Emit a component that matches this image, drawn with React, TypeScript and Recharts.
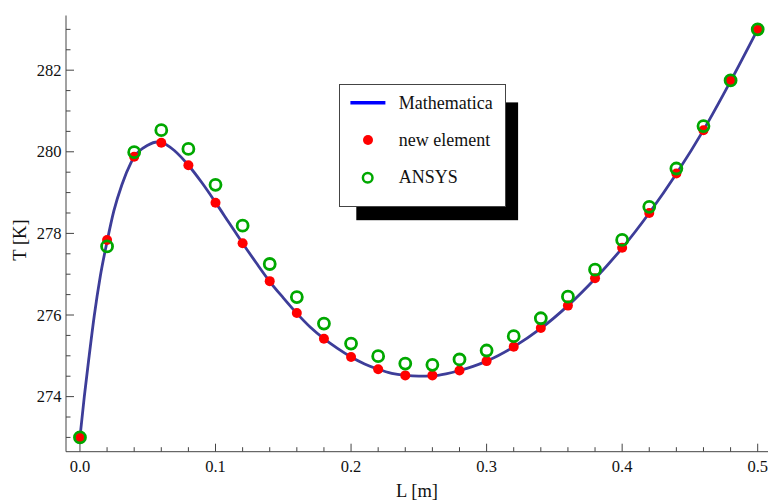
import React from 'react';
import { ComposedChart, Line, Scatter, XAxis, YAxis, Legend } from 'recharts';

// ---- data ----
const lengthL = [0, 0.02, 0.04, 0.06, 0.08, 0.1, 0.12, 0.14, 0.16, 0.18, 0.2, 0.22, 0.24, 0.26, 0.28, 0.3, 0.32, 0.34, 0.36, 0.38, 0.4, 0.42, 0.44, 0.46, 0.48, 0.5];
const newElementT = [273.0, 277.84, 279.88, 280.22, 279.67, 278.75, 277.76, 276.83, 276.05, 275.42, 274.97, 274.67, 274.52, 274.52, 274.64, 274.87, 275.22, 275.68, 276.23, 276.9, 277.65, 278.5, 279.47, 280.53, 281.75, 282.99];
const ansysT = [273.0, 277.68, 279.99, 280.53, 280.07, 279.19, 278.19, 277.25, 276.44, 275.79, 275.3, 274.99, 274.81, 274.78, 274.91, 275.13, 275.48, 275.92, 276.45, 277.11, 277.84, 278.65, 279.59, 280.63, 281.75, 283.0];

const curveL = [0, 0.0032, 0.0068, 0.0105, 0.015, 0.02, 0.025, 0.031, 0.0375, 0.04, 0.05, 0.057, 0.06, 0.07, 0.08, 0.09, 0.1, 0.11, 0.12, 0.13, 0.14, 0.15, 0.16, 0.17, 0.18, 0.19, 0.2, 0.21, 0.22, 0.23, 0.24, 0.25, 0.26, 0.27, 0.28, 0.29, 0.3, 0.32, 0.34, 0.36, 0.38, 0.4, 0.42, 0.44, 0.46, 0.48, 0.5];
const curveT = [273.0, 274.0, 275.0, 275.97, 276.95, 277.8, 278.55, 279.2, 279.72, 279.87, 280.16, 280.24, 280.23, 280.02, 279.67, 279.24, 278.76, 278.26, 277.76, 277.28, 276.82, 276.42, 276.04, 275.7, 275.42, 275.18, 274.97, 274.8, 274.67, 274.57, 274.52, 274.5, 274.51, 274.56, 274.64, 274.74, 274.87, 275.22, 275.67, 276.23, 276.89, 277.64, 278.5, 279.46, 280.53, 281.73, 283.0];

const xTicks = [0, 0.02, 0.04, 0.06, 0.08, 0.1, 0.12, 0.14, 0.16, 0.18, 0.2, 0.22, 0.24, 0.26, 0.28, 0.3, 0.32, 0.34, 0.36, 0.38, 0.4, 0.42, 0.44, 0.46, 0.48, 0.5];
const xMajorTicks = [0, 0.1, 0.2, 0.3, 0.4, 0.5];
const yTicks = [273, 273.5, 274, 274.5, 275, 275.5, 276, 276.5, 277, 277.5, 278, 278.5, 279, 279.5, 280, 280.5, 281, 281.5, 282, 282.5, 283];
const yMajorTicks = [274, 276, 278, 280, 282];

const xDomain = [-0.0103, 0.5076];
const yDomain = [272.65, 283.34];

const curveData = curveL.map((L, i) => ({ L, T: curveT[i] }));
const newElementData = lengthL.map((L, i) => ({ L, T: newElementT[i] }));
const ansysData = lengthL.map((L, i) => ({ L, T: ansysT[i] }));

// ---- styles ----
const FONT = "'Liberation Serif', 'Times New Roman', serif";
const FRAME = '#444444';
const TEXT = '#111111';
const LINE_COLOR = '#3d3d99';
const RED = '#ff0000';
const GREEN = '#00a800';
const MAJOR_LEN = 8;
const MINOR_LEN = 4.5;

const isMajor = (v: number, list: number[]) => list.some((m) => Math.abs(m - v) < 1e-6);

const BottomTick = (props: any) => {
  const { x, y, payload } = props;
  const major = isMajor(payload.value, xMajorTicks);
  return (
    <g>
      <line x1={x} y1={y} x2={x} y2={y - (major ? MAJOR_LEN : MINOR_LEN)} stroke={FRAME} strokeWidth={1} />
      {major && (
        <text x={x} y={y + 19.8} textAnchor="middle" fontSize={16.5} fontFamily={FONT} fill={TEXT}>
          {payload.value.toFixed(1)}
        </text>
      )}
    </g>
  );
};

const TopTick = (props: any) => {
  const { x, y, payload } = props;
  const major = isMajor(payload.value, xMajorTicks);
  return <line x1={x} y1={y} x2={x} y2={y + (major ? MAJOR_LEN : MINOR_LEN)} stroke={FRAME} strokeWidth={1} />;
};

const LeftTick = (props: any) => {
  const { x, y, payload } = props;
  const major = isMajor(payload.value, yMajorTicks);
  return (
    <g>
      <line x1={x} y1={y} x2={x + (major ? MAJOR_LEN : MINOR_LEN)} y2={y} stroke={FRAME} strokeWidth={1} />
      {major && (
        <text x={x - 4.5} y={y + 5.6} textAnchor="end" fontSize={16.5} fontFamily={FONT} fill={TEXT}>
          {payload.value}
        </text>
      )}
    </g>
  );
};

const RightTick = (props: any) => {
  const { x, y, payload } = props;
  const major = isMajor(payload.value, yMajorTicks);
  return <line x1={x} y1={y} x2={x - (major ? MAJOR_LEN : MINOR_LEN)} y2={y} stroke={FRAME} strokeWidth={1} />;
};

const RedDot = (props: any) => {
  const { cx, cy } = props;
  return <circle cx={cx} cy={cy} r={5} fill={RED} />;
};

const GreenRing = (props: any) => {
  const { cx, cy } = props;
  return <circle cx={cx} cy={cy} r={5.5} fill="none" stroke={GREEN} strokeWidth={2.8} />;
};

const YLabel = () => {
  const cx = 20;
  const cy = 240;
  return (
    <text x={cx} y={cy} transform={`rotate(-90 ${cx} ${cy})`} textAnchor="middle" dominantBaseline="central" fontSize={18.5} fontFamily={FONT} fill={TEXT}>
      T [K]
    </text>
  );
};

const XLabel = (props: any) => {
  const vb = props.viewBox || { x: 66, width: 702 };
  return (
    <text x={vb.x + vb.width / 2} y={497} textAnchor="middle" fontSize={18.5} fontFamily={FONT} fill={TEXT}>
      L [m]
    </text>
  );
};

const LegendBox = () => (
  <div
    style={{
      boxSizing: 'border-box',
      width: 167,
      height: 123,
      border: `1px solid ${FRAME}`,
      background: '#fff',
      boxShadow: '14.7px 15.8px 0 -2.6px #000',
    }}
  >
    <svg width={165} height={121} style={{ display: 'block' }}>
      <line x1={10.4} y1={17.7} x2={45.4} y2={17.7} stroke="#0000ff" strokeWidth={3.5} />
      <text x={58.7} y={23.5} fontSize={18} fontFamily={FONT} fill={TEXT}>Mathematica</text>
      <circle cx={28} cy={55} r={5} fill={RED} />
      <text x={58.7} y={60.5} fontSize={18} fontFamily={FONT} fill={TEXT}>new element</text>
      <circle cx={27.7} cy={92.7} r={4.8} fill="none" stroke={GREEN} strokeWidth={2.5} />
      <text x={58.7} y={98.3} fontSize={18} fontFamily={FONT} fill={TEXT}>ANSYS</text>
    </svg>
  </div>
);

export default function App() {
  return (
    <div style={{ position: 'absolute', left: 0, top: 0, width: 770, height: 501, background: '#fff' }}>
      <ComposedChart width={770} height={501} margin={{ top: 15.5, right: 2, bottom: 0, left: 0 }}>
        <XAxis
          xAxisId="bottom"
          dataKey="L"
          type="number"
          orientation="bottom"
          domain={xDomain}
          allowDataOverflow
          ticks={xTicks}
          interval={0}
          tickSize={0}
          tickMargin={0}
          tickLine={false}
          tick={<BottomTick />}
          axisLine={{ stroke: FRAME, strokeWidth: 1 }}
          height={49.3}
          label={<XLabel />}
        />
        <XAxis
          xAxisId="top"
          dataKey="L"
          type="number"
          orientation="top"
          domain={xDomain}
          allowDataOverflow
          ticks={xTicks}
          interval={0}
          tickSize={0}
          tickMargin={0}
          tickLine={false}
          tick={<TopTick />}
          axisLine={{ stroke: FRAME, strokeWidth: 1 }}
          height={0}
        />
        <YAxis
          yAxisId="left"
          type="number"
          orientation="left"
          domain={yDomain}
          allowDataOverflow
          ticks={yTicks}
          interval={0}
          tickSize={0}
          tickMargin={0}
          tickLine={false}
          tick={<LeftTick />}
          axisLine={{ stroke: FRAME, strokeWidth: 1 }}
          width={66}
          label={<YLabel />}
        />
        <YAxis
          yAxisId="right"
          type="number"
          orientation="right"
          domain={yDomain}
          allowDataOverflow
          ticks={yTicks}
          interval={0}
          tickSize={0}
          tickMargin={0}
          tickLine={false}
          tick={<RightTick />}
          axisLine={{ stroke: FRAME, strokeWidth: 1 }}
          width={0}
        />
        <Line
          xAxisId="bottom"
          yAxisId="left"
          data={curveData}
          dataKey="T"
          type="monotone"
          stroke={LINE_COLOR}
          strokeWidth={2.8}
          dot={false}
          activeDot={false}
          isAnimationActive={false}
          name="Mathematica"
        />
        <Scatter
          xAxisId="bottom"
          yAxisId="left"
          data={newElementData}
          dataKey="T"
          shape={<RedDot />}
          isAnimationActive={false}
          name="new element"
        />
        <Scatter
          xAxisId="bottom"
          yAxisId="left"
          data={ansysData}
          dataKey="T"
          shape={<GreenRing />}
          isAnimationActive={false}
          name="ANSYS"
        />
        <Legend
          layout="horizontal"
          verticalAlign="middle"
          align="center"
          content={<LegendBox />}
          wrapperStyle={{ left: 339.3, top: 84, width: 167, height: 123 }}
        />
      </ComposedChart>
    </div>
  );
}
